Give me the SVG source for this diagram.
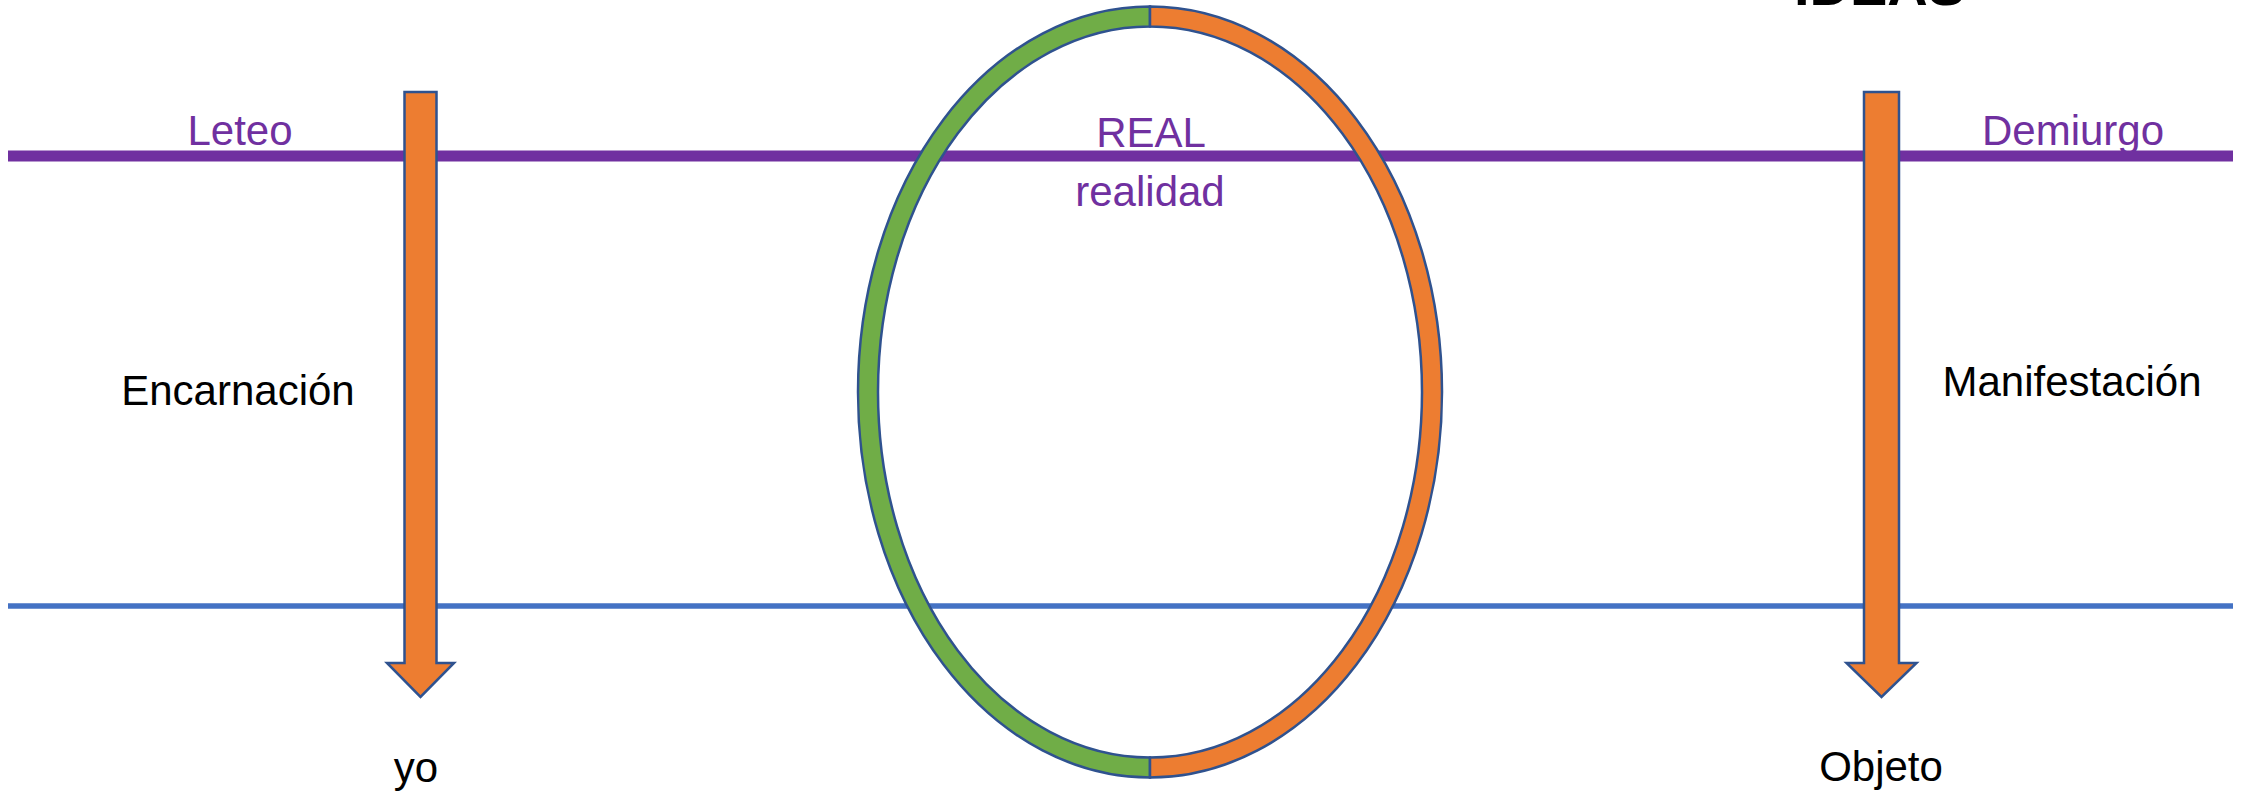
<svg xmlns="http://www.w3.org/2000/svg" width="2247" height="794" viewBox="0 0 2247 794">
  <style>
    .lbl { font-family: "Liberation Sans", Arial, sans-serif; font-size: 42px; text-anchor: middle; }
    .purple { fill: #7030A0; }
    .black { fill: #000000; }
    .title { font-family: "Liberation Sans", Arial, sans-serif; font-size: 56px; font-weight: bold; fill: #000000; }
    .arrow { fill: #ED7D31; stroke: #2F528F; stroke-width: 2.5; stroke-linejoin: miter; }
    .ringL { fill: #70AD47; stroke: #2F528F; stroke-width: 2.5; }
    .ringR { fill: #ED7D31; stroke: #2F528F; stroke-width: 2.5; }
  </style>
  <rect width="2247" height="794" fill="#FFFFFF"/>

  <g id="title">
    <text class="title" x="1794" y="5">IDEAS</text>
  </g>

  <g id="levels">
    <line id="plane-ideas" x1="8" y1="156" x2="2233" y2="156" stroke="#7030A0" stroke-width="11"/>
    <line id="plane-sensible" x1="8" y1="606" x2="2233" y2="606" stroke="#4472C4" stroke-width="5.5"/>
  </g>

  <g id="connectors">
    <path id="arrow-encarnacion" class="arrow" d="M404.5 92 H436.5 V663 H454 L420.5 697 L387 663 H404.5 Z"/>
    <path id="arrow-manifestacion" class="arrow" d="M1864 92 H1899 V663 H1916.5 L1881.5 697 L1846.5 663 H1864 Z"/>
  </g>

  <g id="ring">
    <path class="ringL" d="M1150 6.5 A292 385.5 0 0 0 1150 777.5 L1150 757.5 A272 365.5 0 0 1 1150 26.5 Z"/>
    <path class="ringR" d="M1150 6.5 A292 385.5 0 0 1 1150 777.5 L1150 757.5 A272 365.5 0 0 0 1150 26.5 Z"/>
  </g>

  <g id="leteo"><text class="lbl purple" x="240" y="145">Leteo</text></g>
  <g id="real"><text class="lbl purple" x="1151" y="147">REAL</text></g>
  <g id="realidad"><text class="lbl purple" x="1150" y="206">realidad</text></g>
  <g id="demiurgo"><text class="lbl purple" x="2073" y="145">Demiurgo</text></g>
  <g id="encarnacion"><text class="lbl black" x="238" y="405">Encarnación</text></g>
  <g id="manifestacion"><text class="lbl black" x="2072" y="396">Manifestación</text></g>
  <g id="yo"><text class="lbl black" x="416" y="782">yo</text></g>
  <g id="objeto"><text class="lbl black" x="1881" y="781">Objeto</text></g>
</svg>
